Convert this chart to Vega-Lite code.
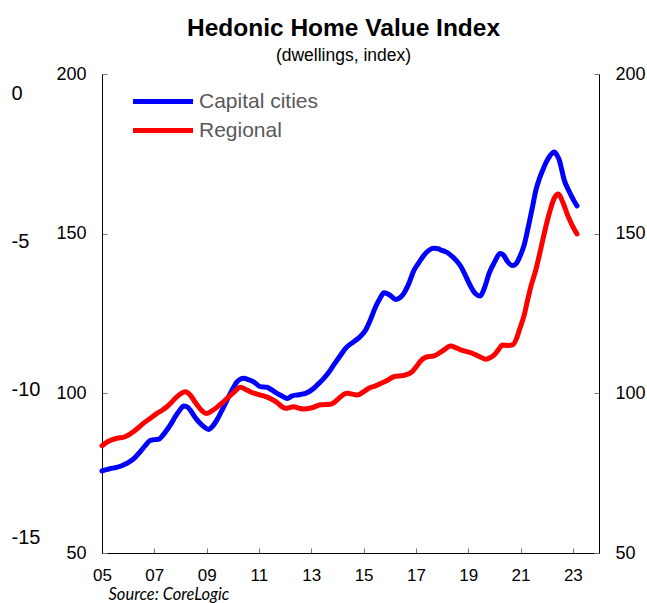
{
  "$schema": "https://vega.github.io/schema/vega-lite/v6.json",
  "width": 497,
  "height": 479,
  "autosize": {"type": "none"},
  "padding": {"left": 102, "top": 74, "right": 48, "bottom": 50},
  "background": "white",
  "config": {"font": "Liberation Sans", "view": {"stroke": null}},
  "title": {
    "text": "Hedonic Home Value Index",
    "subtitle": "(dwellings, index)",
    "font": "Liberation Sans",
    "fontSize": 24.5,
    "fontWeight": "bold",
    "color": "black",
    "subtitleFont": "Liberation Sans",
    "subtitleFontSize": 17.5,
    "subtitleColor": "black",
    "subtitlePadding": 5,
    "anchor": "middle",
    "frame": "group",
    "offset": 0,
    "dx": -7
  },
  "datasets": {
    "series": [
      {"series": "Capital cities", "year": 2005.0, "value": 75.7},
      {"series": "Capital cities", "year": 2005.3, "value": 76.4},
      {"series": "Capital cities", "year": 2005.56, "value": 76.8},
      {"series": "Capital cities", "year": 2005.8, "value": 77.5},
      {"series": "Capital cities", "year": 2006.0, "value": 78.3},
      {"series": "Capital cities", "year": 2006.25, "value": 79.8},
      {"series": "Capital cities", "year": 2006.46, "value": 81.7},
      {"series": "Capital cities", "year": 2006.65, "value": 83.6},
      {"series": "Capital cities", "year": 2006.84, "value": 85.2},
      {"series": "Capital cities", "year": 2007.0, "value": 85.5},
      {"series": "Capital cities", "year": 2007.16, "value": 85.6},
      {"series": "Capital cities", "year": 2007.32, "value": 86.8},
      {"series": "Capital cities", "year": 2007.48, "value": 88.5},
      {"series": "Capital cities", "year": 2007.65, "value": 90.6},
      {"series": "Capital cities", "year": 2007.8, "value": 92.7},
      {"series": "Capital cities", "year": 2007.97, "value": 94.7},
      {"series": "Capital cities", "year": 2008.12, "value": 96.0},
      {"series": "Capital cities", "year": 2008.25, "value": 95.8},
      {"series": "Capital cities", "year": 2008.37, "value": 94.8},
      {"series": "Capital cities", "year": 2008.55, "value": 92.6},
      {"series": "Capital cities", "year": 2008.75, "value": 90.6},
      {"series": "Capital cities", "year": 2008.92, "value": 89.4},
      {"series": "Capital cities", "year": 2009.07, "value": 88.7},
      {"series": "Capital cities", "year": 2009.22, "value": 89.6},
      {"series": "Capital cities", "year": 2009.39, "value": 91.6},
      {"series": "Capital cities", "year": 2009.58, "value": 94.6},
      {"series": "Capital cities", "year": 2009.78, "value": 97.9},
      {"series": "Capital cities", "year": 2009.97, "value": 101.0},
      {"series": "Capital cities", "year": 2010.16, "value": 103.6},
      {"series": "Capital cities", "year": 2010.3, "value": 104.5},
      {"series": "Capital cities", "year": 2010.41, "value": 104.7},
      {"series": "Capital cities", "year": 2010.6, "value": 104.3},
      {"series": "Capital cities", "year": 2010.8, "value": 103.6},
      {"series": "Capital cities", "year": 2011.05, "value": 102.1},
      {"series": "Capital cities", "year": 2011.31, "value": 101.9},
      {"series": "Capital cities", "year": 2011.5, "value": 101.0},
      {"series": "Capital cities", "year": 2011.69, "value": 100.0},
      {"series": "Capital cities", "year": 2011.9, "value": 99.1},
      {"series": "Capital cities", "year": 2012.08, "value": 98.4},
      {"series": "Capital cities", "year": 2012.27, "value": 99.2},
      {"series": "Capital cities", "year": 2012.46, "value": 99.5},
      {"series": "Capital cities", "year": 2012.62, "value": 99.7},
      {"series": "Capital cities", "year": 2012.78, "value": 100.0},
      {"series": "Capital cities", "year": 2013.1, "value": 101.6},
      {"series": "Capital cities", "year": 2013.3, "value": 103.2},
      {"series": "Capital cities", "year": 2013.48, "value": 104.7},
      {"series": "Capital cities", "year": 2013.67, "value": 106.6},
      {"series": "Capital cities", "year": 2013.86, "value": 108.9},
      {"series": "Capital cities", "year": 2014.1, "value": 111.7},
      {"series": "Capital cities", "year": 2014.31, "value": 114.1},
      {"series": "Capital cities", "year": 2014.63, "value": 116.2},
      {"series": "Capital cities", "year": 2014.85, "value": 117.6},
      {"series": "Capital cities", "year": 2015.08, "value": 119.8},
      {"series": "Capital cities", "year": 2015.27, "value": 123.2},
      {"series": "Capital cities", "year": 2015.46, "value": 127.1},
      {"series": "Capital cities", "year": 2015.62, "value": 129.6},
      {"series": "Capital cities", "year": 2015.78, "value": 131.5},
      {"series": "Capital cities", "year": 2016.0, "value": 130.8},
      {"series": "Capital cities", "year": 2016.23, "value": 129.4},
      {"series": "Capital cities", "year": 2016.4, "value": 130.0},
      {"series": "Capital cities", "year": 2016.54, "value": 131.3},
      {"series": "Capital cities", "year": 2016.7, "value": 133.8},
      {"series": "Capital cities", "year": 2016.93, "value": 138.6},
      {"series": "Capital cities", "year": 2017.12, "value": 141.0},
      {"series": "Capital cities", "year": 2017.31, "value": 143.3},
      {"series": "Capital cities", "year": 2017.5, "value": 144.8},
      {"series": "Capital cities", "year": 2017.69, "value": 145.4},
      {"series": "Capital cities", "year": 2017.85, "value": 145.3},
      {"series": "Capital cities", "year": 2017.95, "value": 144.9},
      {"series": "Capital cities", "year": 2018.15, "value": 144.3},
      {"series": "Capital cities", "year": 2018.33, "value": 143.3},
      {"series": "Capital cities", "year": 2018.52, "value": 141.8},
      {"series": "Capital cities", "year": 2018.72, "value": 139.7},
      {"series": "Capital cities", "year": 2018.9, "value": 136.8},
      {"series": "Capital cities", "year": 2019.1, "value": 133.4},
      {"series": "Capital cities", "year": 2019.28, "value": 131.2},
      {"series": "Capital cities", "year": 2019.46, "value": 130.5},
      {"series": "Capital cities", "year": 2019.62, "value": 133.0},
      {"series": "Capital cities", "year": 2019.8, "value": 137.6},
      {"series": "Capital cities", "year": 2020.0, "value": 141.0},
      {"series": "Capital cities", "year": 2020.22, "value": 143.8},
      {"series": "Capital cities", "year": 2020.35, "value": 143.3},
      {"series": "Capital cities", "year": 2020.5, "value": 141.3},
      {"series": "Capital cities", "year": 2020.7, "value": 140.0},
      {"series": "Capital cities", "year": 2020.85, "value": 140.8},
      {"series": "Capital cities", "year": 2021.0, "value": 143.3},
      {"series": "Capital cities", "year": 2021.14, "value": 146.5},
      {"series": "Capital cities", "year": 2021.27, "value": 151.1},
      {"series": "Capital cities", "year": 2021.46, "value": 158.5},
      {"series": "Capital cities", "year": 2021.59, "value": 163.7},
      {"series": "Capital cities", "year": 2021.72, "value": 167.2},
      {"series": "Capital cities", "year": 2021.85, "value": 169.9},
      {"series": "Capital cities", "year": 2021.97, "value": 172.2},
      {"series": "Capital cities", "year": 2022.1, "value": 174.1},
      {"series": "Capital cities", "year": 2022.29, "value": 175.6},
      {"series": "Capital cities", "year": 2022.4, "value": 174.5},
      {"series": "Capital cities", "year": 2022.48, "value": 173.1},
      {"series": "Capital cities", "year": 2022.57, "value": 170.2},
      {"series": "Capital cities", "year": 2022.67, "value": 166.8},
      {"series": "Capital cities", "year": 2022.8, "value": 164.2},
      {"series": "Capital cities", "year": 2022.93, "value": 162.1},
      {"series": "Capital cities", "year": 2023.05, "value": 160.2},
      {"series": "Capital cities", "year": 2023.16, "value": 158.7},
      {"series": "Regional", "year": 2005.0, "value": 83.6},
      {"series": "Regional", "year": 2005.25, "value": 85.0},
      {"series": "Regional", "year": 2005.56, "value": 85.9},
      {"series": "Regional", "year": 2005.88, "value": 86.4},
      {"series": "Regional", "year": 2006.2, "value": 88.0},
      {"series": "Regional", "year": 2006.4, "value": 89.3},
      {"series": "Regional", "year": 2006.58, "value": 90.6},
      {"series": "Regional", "year": 2006.85, "value": 92.2},
      {"series": "Regional", "year": 2007.1, "value": 93.7},
      {"series": "Regional", "year": 2007.3, "value": 94.7},
      {"series": "Regional", "year": 2007.48, "value": 95.8},
      {"series": "Regional", "year": 2007.67, "value": 97.3},
      {"series": "Regional", "year": 2007.86, "value": 98.9},
      {"series": "Regional", "year": 2008.02, "value": 99.9},
      {"series": "Regional", "year": 2008.18, "value": 100.5},
      {"series": "Regional", "year": 2008.37, "value": 99.5},
      {"series": "Regional", "year": 2008.53, "value": 97.6},
      {"series": "Regional", "year": 2008.69, "value": 95.8},
      {"series": "Regional", "year": 2008.85, "value": 94.3},
      {"series": "Regional", "year": 2008.98, "value": 93.7},
      {"series": "Regional", "year": 2009.2, "value": 94.5},
      {"series": "Regional", "year": 2009.39, "value": 95.6},
      {"series": "Regional", "year": 2009.58, "value": 96.9},
      {"series": "Regional", "year": 2009.78, "value": 98.4},
      {"series": "Regional", "year": 2010.05, "value": 100.4},
      {"series": "Regional", "year": 2010.29, "value": 101.9},
      {"series": "Regional", "year": 2010.5, "value": 101.2},
      {"series": "Regional", "year": 2010.67, "value": 100.5},
      {"series": "Regional", "year": 2011.03, "value": 99.5},
      {"series": "Regional", "year": 2011.18, "value": 99.2},
      {"series": "Regional", "year": 2011.45, "value": 98.3},
      {"series": "Regional", "year": 2011.69, "value": 97.1},
      {"series": "Regional", "year": 2011.85, "value": 96.0},
      {"series": "Regional", "year": 2012.01, "value": 95.3},
      {"series": "Regional", "year": 2012.33, "value": 95.8},
      {"series": "Regional", "year": 2012.55, "value": 95.3},
      {"series": "Regional", "year": 2012.71, "value": 95.1},
      {"series": "Regional", "year": 2013.03, "value": 95.5},
      {"series": "Regional", "year": 2013.35, "value": 96.4},
      {"series": "Regional", "year": 2013.74, "value": 96.6},
      {"series": "Regional", "year": 2013.9, "value": 97.3},
      {"series": "Regional", "year": 2014.05, "value": 98.4},
      {"series": "Regional", "year": 2014.37, "value": 100.0},
      {"series": "Regional", "year": 2014.76, "value": 99.5},
      {"series": "Regional", "year": 2015.0, "value": 100.5},
      {"series": "Regional", "year": 2015.2, "value": 101.6},
      {"series": "Regional", "year": 2015.45, "value": 102.3},
      {"series": "Regional", "year": 2015.65, "value": 103.1},
      {"series": "Regional", "year": 2015.9, "value": 104.0},
      {"series": "Regional", "year": 2016.16, "value": 105.2},
      {"series": "Regional", "year": 2016.54, "value": 105.6},
      {"series": "Regional", "year": 2016.86, "value": 106.8},
      {"series": "Regional", "year": 2017.03, "value": 108.5},
      {"series": "Regional", "year": 2017.18, "value": 110.1},
      {"series": "Regional", "year": 2017.38, "value": 111.3},
      {"series": "Regional", "year": 2017.69, "value": 111.7},
      {"series": "Regional", "year": 2018.02, "value": 113.3},
      {"series": "Regional", "year": 2018.33, "value": 114.8},
      {"series": "Regional", "year": 2018.52, "value": 114.3},
      {"series": "Regional", "year": 2018.72, "value": 113.6},
      {"series": "Regional", "year": 2019.1, "value": 112.7},
      {"series": "Regional", "year": 2019.4, "value": 111.6},
      {"series": "Regional", "year": 2019.67, "value": 110.7},
      {"series": "Regional", "year": 2019.85, "value": 111.2},
      {"series": "Regional", "year": 2019.99, "value": 112.0},
      {"series": "Regional", "year": 2020.15, "value": 113.6},
      {"series": "Regional", "year": 2020.31, "value": 115.1},
      {"series": "Regional", "year": 2020.5, "value": 115.0},
      {"series": "Regional", "year": 2020.7, "value": 115.2},
      {"series": "Regional", "year": 2020.85, "value": 117.2},
      {"series": "Regional", "year": 2020.97, "value": 120.2},
      {"series": "Regional", "year": 2021.14, "value": 124.5},
      {"series": "Regional", "year": 2021.27, "value": 129.2},
      {"series": "Regional", "year": 2021.4, "value": 133.6},
      {"series": "Regional", "year": 2021.59, "value": 138.8},
      {"series": "Regional", "year": 2021.72, "value": 143.3},
      {"series": "Regional", "year": 2021.85, "value": 148.0},
      {"series": "Regional", "year": 2021.97, "value": 152.3},
      {"series": "Regional", "year": 2022.1, "value": 156.4},
      {"series": "Regional", "year": 2022.29, "value": 161.1},
      {"series": "Regional", "year": 2022.45, "value": 162.4},
      {"series": "Regional", "year": 2022.61, "value": 160.0},
      {"series": "Regional", "year": 2022.8, "value": 155.8},
      {"series": "Regional", "year": 2022.99, "value": 152.4},
      {"series": "Regional", "year": 2023.16, "value": 149.9}
    ],
    "phantom": [{"v": 0}, {"v": -5}, {"v": -10}, {"v": -15}]
  },
  "layer": [
    {
      "data": {"name": "series"},
      "mark": {"type": "line", "strokeWidth": 5, "strokeCap": "round", "strokeJoin": "round", "interpolate": "monotone"},
      "encoding": {
        "x": {
          "field": "year", "type": "quantitative",
          "scale": {"domain": [2005, 2024], "nice": false, "zero": false},
          "axis": {
            "values": [2005, 2007, 2009, 2011, 2013, 2015, 2017, 2019, 2021, 2023],
            "labelExpr": "datum.value < 2010 ? '0' + (datum.value - 2000) : '' + (datum.value - 2000)",
            "grid": false, "tickSize": -5, "tickColor": "#777777", "domainColor": "black",
            "labelFontSize": 17, "labelColor": "black", "labelPadding": 19, "labelFlush": false,
            "title": "Source: CoreLogic", "titleFont": "Lato", "titleFontStyle": "italic",
            "titleFontWeight": "normal", "titleFontSize": 16.5, "titleColor": "black",
            "titleAnchor": "start", "titleAlign": "left", "titleBaseline": "middle",
            "titleX": 6, "titleY": 41
          }
        },
        "y": {
          "field": "value", "type": "quantitative",
          "scale": {"domain": [50, 200], "nice": false, "zero": false},
          "axis": {
            "orient": "left", "values": [50, 100, 150, 200], "grid": false,
            "tickSize": -5, "tickColor": "#777777", "domainColor": "black",
            "labelFontSize": 18, "labelColor": "black", "labelPadding": 21, "title": null
          }
        },
        "color": {
          "field": "series", "type": "nominal",
          "scale": {"domain": ["Capital cities", "Regional"], "range": ["#0000FF", "#FF0000"]},
          "legend": {
            "orient": "none", "legendX": 48.5, "legendY": 15, "title": null,
            "symbolType": "M-3,0L3,0", "symbolSize": 400, "symbolStrokeWidth": 5,
            "labelFontSize": 21, "labelColor": "#595959", "labelOffset": 23.5,
            "rowPadding": 6, "padding": 0
          }
        }
      }
    },
    {
      "data": {"name": "series"},
      "mark": {"type": "line", "opacity": 0},
      "encoding": {
        "x": {"field": "year", "type": "quantitative"},
        "y": {
          "field": "value", "type": "quantitative",
          "scale": {"domain": [50, 200], "nice": false, "zero": false},
          "axis": {
            "orient": "right", "values": [50, 100, 150, 200], "grid": false,
            "tickSize": -5, "tickColor": "#777777", "domainColor": "black",
            "labelFontSize": 18, "labelColor": "black", "labelPadding": 21, "title": null
          }
        },
        "detail": {"field": "series"}
      }
    },
    {
      "data": {"name": "phantom"},
      "mark": {"type": "point", "opacity": 0},
      "encoding": {
        "y": {
          "field": "v", "type": "quantitative",
          "scale": {"domain": [-15.54, 0.642], "nice": false, "zero": false},
          "axis": {
            "orient": "left", "values": [0, -5, -10, -15], "grid": false,
            "domain": false, "ticks": false, "labelAlign": "left",
            "labelExpr": "'' + datum.value",
            "labelFontSize": 20, "labelColor": "black", "labelPadding": 91, "title": null
          }
        }
      }
    }
  ],
  "resolve": {"scale": {"y": "independent"}, "axis": {"y": "independent"}}
}
